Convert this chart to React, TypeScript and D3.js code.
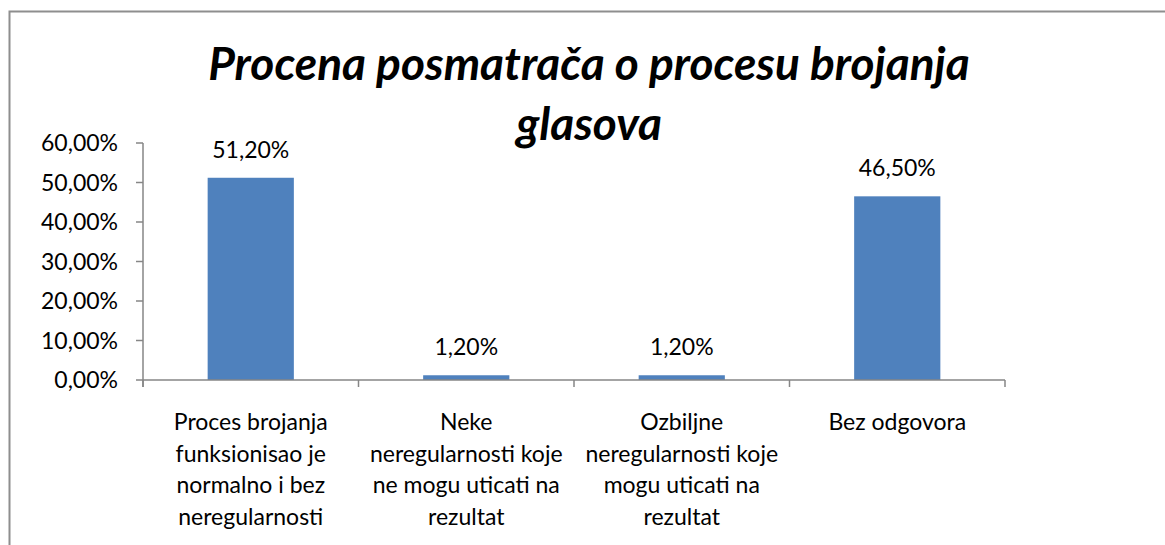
import React from "react";
import * as d3 from "d3";

const titleLines = ["Procena posmatrača o procesu brojanja", "glasova"];
const categories = ["c1", "c2", "c3", "c4"];
const categoryLabels = [
  ["Proces brojanja", "funksionisao je", "normalno i bez", "neregularnosti"],
  ["Neke", "neregularnosti koje", "ne mogu uticati na", "rezultat"],
  ["Ozbiljne", "neregularnosti koje", "mogu uticati na", "rezultat"],
  ["Bez odgovora"],
];
const values = [0.512, 0.012, 0.012, 0.465];
const yTicks = [0, 0.1, 0.2, 0.3, 0.4, 0.5, 0.6];

const locale = d3.formatLocale({ decimal: ",", thousands: ".", grouping: [3], currency: ["", ""] });
const pct = locale.format(".2%");

const W = 1165;
const H = 545;
const FONT = "Lato, 'Open Sans', sans-serif";
const AXIS = "#868686";
const FS = 23;

const App = () => {
  const x = d3.scaleBand<string>().domain(categories).range([143, 1005]).paddingInner(0.6).paddingOuter(0.3);
  const y = d3.scaleLinear().domain([0, 0.6]).range([380, 143]);
  const step = x.step();
  const x0 = x.range()[0];

  return (
    <svg width={W} height={H} style={{ position: "absolute", left: 0, top: 0, background: "#fff" }} fontFamily={FONT}>
      <rect x={9.5} y={11.5} width={1300} height={700} fill="#fff" stroke="#8e8e8e" strokeWidth={2} />

      <text x={589} fontSize={46} fontWeight={700} fontStyle="italic" textAnchor="middle" fill="#000">
        {titleLines.map((l, i) => (
          <tspan key={i} x={589} y={80 + i * 60}>{l}</tspan>
        ))}
      </text>

      {/* y axis */}
      <line x1={143} x2={143} y1={y(0.6)} y2={387} stroke={AXIS} strokeWidth={1.5} />
      {yTicks.map((t) => (
        <g key={t}>
          <line x1={136} x2={143} y1={y(t)} y2={y(t)} stroke={AXIS} strokeWidth={1.5} />
          <text x={118} y={y(t) + 8} fontSize={FS} textAnchor="end" fill="#000">{pct(t)}</text>
        </g>
      ))}

      {/* bars */}
      {values.map((v, i) => (
        <g key={i}>
          <rect x={x(categories[i])} y={y(v)} width={x.bandwidth()} height={y(0) - y(v)} fill="#4F81BD" />
          <text x={x(categories[i])! + x.bandwidth() / 2} y={y(v) - 20} fontSize={FS} textAnchor="middle" fill="#000">
            {pct(v)}
          </text>
        </g>
      ))}

      {/* x axis */}
      <line x1={143} x2={1005} y1={380} y2={380} stroke={AXIS} strokeWidth={1.5} />
      {d3.range(categories.length + 1).map((i) => (
        <line key={i} x1={x0 + i * step} x2={x0 + i * step} y1={380} y2={387} stroke={AXIS} strokeWidth={1.5} />
      ))}
      {categoryLabels.map((lines, i) => (
        <text key={i} fontSize={FS} textAnchor="middle" fill="#000">
          {lines.map((l, j) => (
            <tspan key={j} x={x(categories[i])! + x.bandwidth() / 2} y={430 + j * 31.7}>{l}</tspan>
          ))}
        </text>
      ))}
    </svg>
  );
};

export default App;
